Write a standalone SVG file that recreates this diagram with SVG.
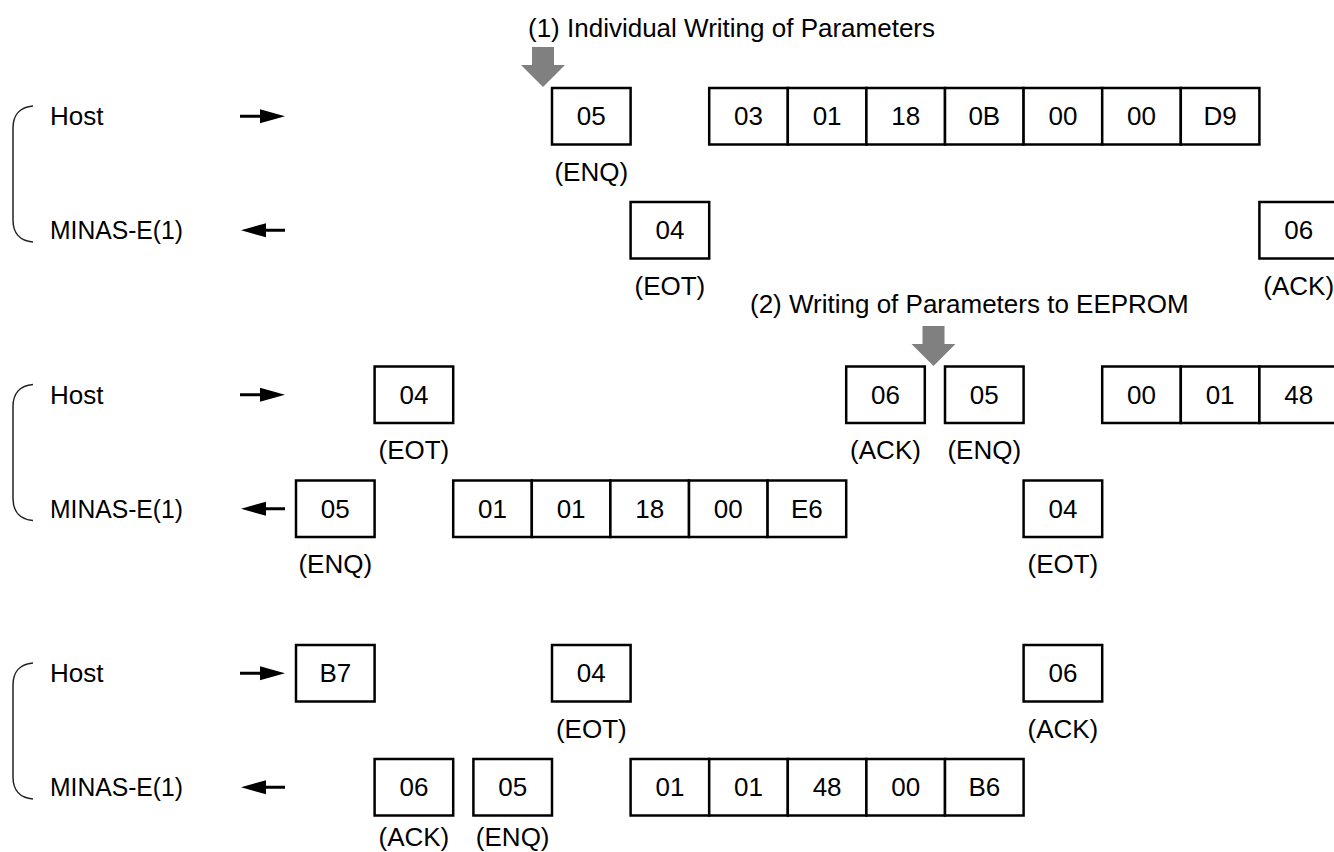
<svg xmlns="http://www.w3.org/2000/svg" xmlns:xlink="http://www.w3.org/1999/xlink" width="1334" height="852" viewBox="0 0 1334 852">
<style>
text{font-family:"Liberation Sans",Arial,sans-serif;font-size:26px;fill:#000}
.c{text-anchor:middle}
.b{fill:#fff;stroke:#000;stroke-width:2.5}
.br{fill:none;stroke:#222;stroke-width:1.5}
.ar{stroke:#000;stroke-width:3;fill:none}
.ah{fill:#000}
.g{fill:#808080}
</style>
<defs>
<polygon id="garrow" class="g" points="-11,-40 11,-40 11,-22 22,-22 0,0 -22,-22 -11,-22"/>
<path id="brace" class="br" d="M33,106 C20,107 13,115 13,128 L13,220 C13,233 20,241 33,242"/>
<g id="rarrow"><line class="ar" x1="240" y1="0" x2="264" y2="0"/><polygon class="ah" points="260,-7 285,0 260,7"/></g>
<g id="larrow"><line class="ar" x1="262" y1="0" x2="285" y2="0"/><polygon class="ah" points="266,-7 241,0 266,7"/></g>
</defs>
<rect width="1334" height="852" fill="#fff"/>

<g id="titles">
<text x="528" y="37">(1) Individual Writing of Parameters</text>
<text x="750" y="313">(2) Writing of Parameters to EEPROM</text>
</g>

<g id="participants">
<use xlink:href="#brace"/>
<text x="50" y="125">Host</text>
<text x="50" y="239" textLength="133" lengthAdjust="spacingAndGlyphs">MINAS-E(1)</text>
<use xlink:href="#brace" y="278.5"/>
<text x="50" y="403.5">Host</text>
<text x="50" y="517.5" textLength="133" lengthAdjust="spacingAndGlyphs">MINAS-E(1)</text>
<use xlink:href="#brace" y="557"/>
<text x="50" y="682">Host</text>
<text x="50" y="796" textLength="133" lengthAdjust="spacingAndGlyphs">MINAS-E(1)</text>
</g>

<g id="connectors">
<use xlink:href="#rarrow" y="116.25"/>
<use xlink:href="#larrow" y="230.25"/>
<use xlink:href="#rarrow" y="394.75"/>
<use xlink:href="#larrow" y="508.75"/>
<use xlink:href="#rarrow" y="673.25"/>
<use xlink:href="#larrow" y="787.25"/>
<use xlink:href="#garrow" x="543" y="87"/>
<use xlink:href="#garrow" x="933.5" y="366"/>
</g>

<!-- Section 1 -->
<g id="s1-host-enq"><rect class="b" x="552" y="88" width="78.6" height="56.5"/><text class="c" x="591.3" y="125">05</text><text class="c" x="591.3" y="180.5">(ENQ)</text></g>
<g id="s1-host-data">
<rect class="b" x="709.2" y="88" width="78.6" height="56.5"/><text class="c" x="748.5" y="125">03</text>
<rect class="b" x="787.8" y="88" width="78.6" height="56.5"/><text class="c" x="827.1" y="125">01</text>
<rect class="b" x="866.4" y="88" width="78.6" height="56.5"/><text class="c" x="905.7" y="125">18</text>
<rect class="b" x="945" y="88" width="78.6" height="56.5"/><text class="c" x="984.3" y="125">0B</text>
<rect class="b" x="1023.6" y="88" width="78.6" height="56.5"/><text class="c" x="1062.9" y="125">00</text>
<rect class="b" x="1102.2" y="88" width="78.6" height="56.5"/><text class="c" x="1141.5" y="125">00</text>
<rect class="b" x="1180.8" y="88" width="78.6" height="56.5"/><text class="c" x="1220.1" y="125">D9</text>
</g>
<g id="s1-minas-eot"><rect class="b" x="630.6" y="202" width="78.6" height="56.5"/><text class="c" x="669.9" y="239">04</text><text class="c" x="669.9" y="294.5">(EOT)</text></g>
<g id="s1-minas-ack"><rect class="b" x="1259.4" y="202" width="78.6" height="56.5"/><text class="c" x="1298.7" y="239">06</text><text class="c" x="1298.7" y="294.5">(ACK)</text></g>

<!-- Section 2 -->
<g id="s2-host-eot"><rect class="b" x="374.6" y="366.5" width="78.6" height="56.5"/><text class="c" x="413.9" y="403.5">04</text><text class="c" x="413.9" y="459">(EOT)</text></g>
<g id="s2-host-ack"><rect class="b" x="846.2" y="366.5" width="78.6" height="56.5"/><text class="c" x="885.5" y="403.5">06</text><text class="c" x="885.5" y="459">(ACK)</text></g>
<g id="s2-host-enq"><rect class="b" x="945" y="366.5" width="78.6" height="56.5"/><text class="c" x="984.3" y="403.5">05</text><text class="c" x="984.3" y="459">(ENQ)</text></g>
<g id="s2-host-data">
<rect class="b" x="1102.2" y="366.5" width="78.6" height="56.5"/><text class="c" x="1141.5" y="403.5">00</text>
<rect class="b" x="1180.8" y="366.5" width="78.6" height="56.5"/><text class="c" x="1220.1" y="403.5">01</text>
<rect class="b" x="1259.4" y="366.5" width="78.6" height="56.5"/><text class="c" x="1298.7" y="403.5">48</text>
</g>
<g id="s2-minas-enq"><rect class="b" x="296" y="480.5" width="78.6" height="56.5"/><text class="c" x="335.3" y="517.5">05</text><text class="c" x="335.3" y="573">(ENQ)</text></g>
<g id="s2-minas-data">
<rect class="b" x="453.2" y="480.5" width="78.6" height="56.5"/><text class="c" x="492.5" y="517.5">01</text>
<rect class="b" x="531.8" y="480.5" width="78.6" height="56.5"/><text class="c" x="571.1" y="517.5">01</text>
<rect class="b" x="610.4" y="480.5" width="78.6" height="56.5"/><text class="c" x="649.7" y="517.5">18</text>
<rect class="b" x="689" y="480.5" width="78.6" height="56.5"/><text class="c" x="728.3" y="517.5">00</text>
<rect class="b" x="767.6" y="480.5" width="78.6" height="56.5"/><text class="c" x="806.9" y="517.5">E6</text>
</g>
<g id="s2-minas-eot"><rect class="b" x="1023.6" y="480.5" width="78.6" height="56.5"/><text class="c" x="1062.9" y="517.5">04</text><text class="c" x="1062.9" y="573">(EOT)</text></g>

<!-- Section 3 -->
<g id="s3-host-b7"><rect class="b" x="296" y="645" width="78.6" height="56.5"/><text class="c" x="335.3" y="682">B7</text></g>
<g id="s3-host-eot"><rect class="b" x="552" y="645" width="78.6" height="56.5"/><text class="c" x="591.3" y="682">04</text><text class="c" x="591.3" y="737.5">(EOT)</text></g>
<g id="s3-host-ack"><rect class="b" x="1023.6" y="645" width="78.6" height="56.5"/><text class="c" x="1062.9" y="682">06</text><text class="c" x="1062.9" y="737.5">(ACK)</text></g>
<g id="s3-minas-ack"><rect class="b" x="374.6" y="759" width="78.6" height="56.5"/><text class="c" x="413.9" y="796">06</text><text class="c" x="413.9" y="846">(ACK)</text></g>
<g id="s3-minas-enq"><rect class="b" x="473.4" y="759" width="78.6" height="56.5"/><text class="c" x="512.7" y="796">05</text><text class="c" x="512.7" y="846">(ENQ)</text></g>
<g id="s3-minas-data">
<rect class="b" x="630.6" y="759" width="78.6" height="56.5"/><text class="c" x="669.9" y="796">01</text>
<rect class="b" x="709.2" y="759" width="78.6" height="56.5"/><text class="c" x="748.5" y="796">01</text>
<rect class="b" x="787.8" y="759" width="78.6" height="56.5"/><text class="c" x="827.1" y="796">48</text>
<rect class="b" x="866.4" y="759" width="78.6" height="56.5"/><text class="c" x="905.7" y="796">00</text>
<rect class="b" x="945" y="759" width="78.6" height="56.5"/><text class="c" x="984.3" y="796">B6</text>
</g>
</svg>
